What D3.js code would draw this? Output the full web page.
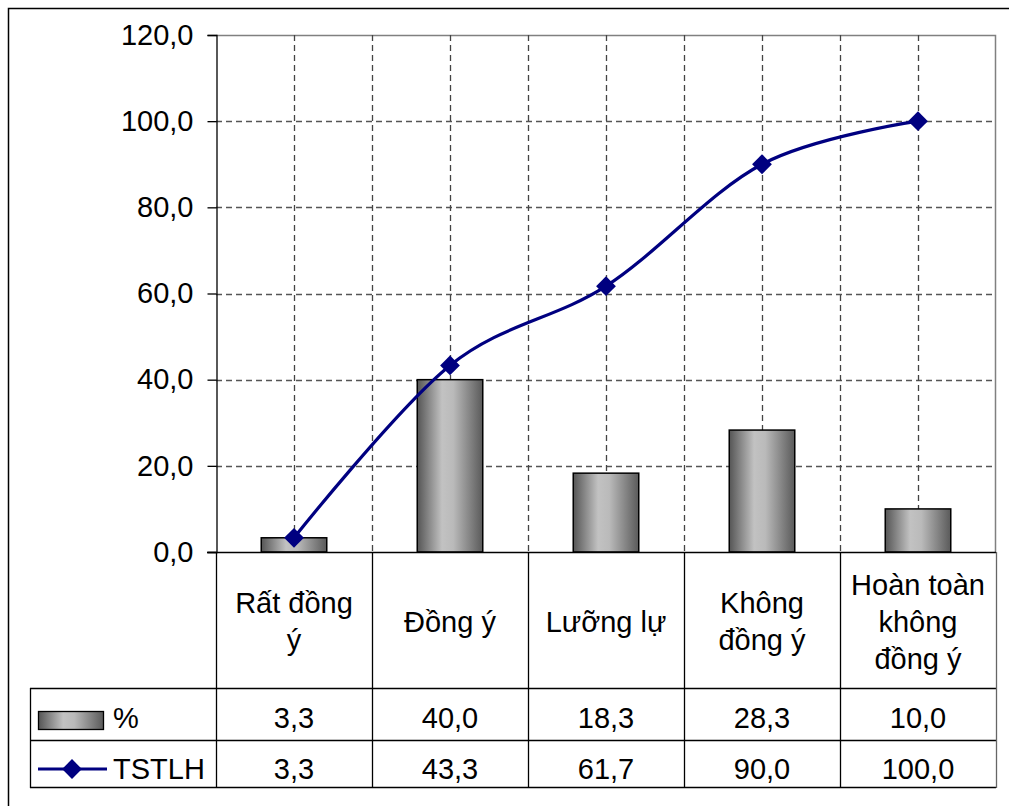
<!DOCTYPE html>
<html>
<head>
<meta charset="utf-8">
<script src="https://cdn.jsdelivr.net/npm/d3@7"></script>
<style>
  body { margin: 0; background: #fff; }
  text { font-family: "Liberation Sans", Arial, sans-serif; fill: #000; }
</style>
</head>
<body>
<svg id="chart" width="1009" height="806"></svg>
<script>
// Category labels (line breaks as they wrap in the table header)
const categories = ["Rất đồng\ný", "Đồng ý", "Lưỡng lự", "Không\nđồng ý", "Hoàn toàn\nkhông\nđồng ý"];
// Share of answers per category (%)
const percentValues = [3.3, 40.0, 18.3, 28.3, 10.0];
// Cumulative share (TSTLH)
const cumulativeValues = [3.3, 43.3, 61.7, 90.0, 100.0];
const seriesNames = ["%", "TSTLH"];
const yTicks = [0, 20, 40, 60, 80, 100, 120];

const svg = d3.select("#chart");
const W = 1009, H = 806;
const plot = { left: 216, right: 996, top: 35, bottom: 552 };
const table = { left: 30, headerBottom: 688, row1Bottom: 740, row2Bottom: 787 };
const fontSize = 29;
const navy = "#000080";

const locale = d3.formatLocale({ decimal: ",", thousands: ".", grouping: [3], currency: ["", ""] });
const fmt = locale.format(".1f");

const idx = d3.range(categories.length);
const xCol = d3.scaleBand().domain(idx).range([plot.left, plot.right]).padding(0);
const xBar = d3.scaleBand().domain(idx).range([plot.left, plot.right])
  .paddingInner(0.58).paddingOuter(0.29);
const y = d3.scaleLinear().domain([0, 120]).range([plot.bottom, plot.top]);
const cx = i => xCol(i) + xCol.bandwidth() / 2;

// Gradient for the column fill
const defs = svg.append("defs");
const grad = defs.append("linearGradient").attr("id", "barGrad")
  .attr("x1", "0%").attr("x2", "100%").attr("y1", "0%").attr("y2", "0%");
[[0, "#555555"], [0.38, "#c2c2c2"], [0.55, "#bababa"], [1, "#5a5a5a"]]
  .forEach(([o, c]) => grad.append("stop").attr("offset", o).attr("stop-color", c));

// Outer chart border
svg.append("rect").attr("x", 8.5).attr("y", 8.5).attr("width", W + 20).attr("height", H + 20)
  .attr("fill", "none").attr("stroke", "#000").attr("stroke-width", 1.5);

// Plot area frame (top / right)
svg.append("path")
  .attr("d", `M${plot.left},${plot.top + 0.5}H${plot.right - 0.5}V${plot.bottom}`)
  .attr("fill", "none").attr("stroke", "#808080").attr("stroke-width", 1.5);

// Horizontal gridlines
svg.append("g").selectAll("line").data(yTicks.filter(t => t > 0 && t < 120)).join("line")
  .attr("x1", plot.left).attr("x2", plot.right)
  .attr("y1", d => Math.round(y(d)) + 0.5).attr("y2", d => Math.round(y(d)) + 0.5)
  .attr("stroke", "#555").attr("stroke-width", 1.3).attr("stroke-dasharray", "6,4");

// Vertical gridlines at category centres and boundaries
const vGrid = [];
idx.forEach(i => { vGrid.push(cx(i)); if (i > 0) vGrid.push(xCol(i)); });
svg.append("g").selectAll("line").data(vGrid).join("line")
  .attr("x1", d => Math.round(d) + 0.5).attr("x2", d => Math.round(d) + 0.5)
  .attr("y1", plot.top).attr("y2", plot.bottom)
  .attr("stroke", "#444").attr("stroke-width", 1.3).attr("stroke-dasharray", "6,4");

// Columns
svg.append("g").selectAll("rect").data(percentValues).join("rect")
  .attr("x", (d, i) => xBar(i)).attr("width", xBar.bandwidth())
  .attr("y", d => y(d)).attr("height", d => y(0) - y(d))
  .attr("fill", "url(#barGrad)").attr("stroke", "#000").attr("stroke-width", 1.5);

// Y axis
const yAxis = svg.append("g").attr("transform", `translate(${plot.left + 0.5},0)`)
  .call(d3.axisLeft(y).tickValues(yTicks).tickSize(9).tickPadding(14).tickFormat(fmt));
yAxis.select(".domain").attr("stroke", "#000").attr("stroke-width", 1.3);
yAxis.selectAll(".tick line").attr("stroke", "#000").attr("stroke-width", 1.3);
yAxis.selectAll(".tick text").style("font-size", fontSize + "px")
  .style("font-family", '"Liberation Sans", Arial, sans-serif').attr("fill", "#000");

// Category axis line
svg.append("line").attr("x1", plot.left - 9).attr("x2", plot.right)
  .attr("y1", plot.bottom + 0.5).attr("y2", plot.bottom + 0.5)
  .attr("stroke", "#000").attr("stroke-width", 1.3);

// Cumulative line
const line = d3.line().x((d, i) => cx(i)).y(d => y(d)).curve(d3.curveCatmullRom.alpha(0));
svg.append("path").datum(cumulativeValues).attr("d", line)
  .attr("fill", "none").attr("stroke", navy).attr("stroke-width", 3.2);

const diamond = d3.symbol().type(d3.symbolDiamond2).size(250);
svg.append("g").selectAll("path").data(cumulativeValues).join("path")
  .attr("transform", (d, i) => `translate(${cx(i)},${y(d)}) rotate(0)`)
  .attr("d", diamond).attr("fill", navy);

// Data table grid
const tg = svg.append("g").attr("stroke", "#000").attr("stroke-width", 1.3).attr("fill", "none");
[table.headerBottom, table.row1Bottom, table.row2Bottom].forEach(yy => {
  tg.append("line").attr("x1", table.left).attr("x2", plot.right)
    .attr("y1", yy + 0.5).attr("y2", yy + 0.5);
});
tg.append("line").attr("x1", table.left + 0.5).attr("x2", table.left + 0.5)
  .attr("y1", table.headerBottom).attr("y2", table.row2Bottom + 1);
d3.range(categories.length + 1).forEach(i => {
  const xx = i < categories.length ? xCol(i) : plot.right;
  tg.append("line").attr("x1", Math.round(xx) + 0.5).attr("x2", Math.round(xx) + 0.5)
    .attr("y1", plot.bottom).attr("y2", table.row2Bottom + 1)
    .attr("stroke", i === categories.length ? "#666" : "#000");
});

// Header labels
const lineGap = 37, headerMid = 621;
categories.forEach((c, i) => {
  const lines = c.split("\n");
  const t = svg.append("text").attr("text-anchor", "middle").style("font-size", fontSize + "px");
  lines.forEach((ln, k) => {
    t.append("tspan").attr("x", cx(i))
      .attr("y", headerMid + (k - (lines.length - 1) / 2) * lineGap + 10.5)
      .text(ln);
  });
});

// Value rows
const rows = [
  { name: seriesNames[0], values: percentValues, base: 728 },
  { name: seriesNames[1], values: cumulativeValues, base: 779 }
];
rows.forEach(r => {
  svg.append("g").selectAll("text").data(r.values).join("text")
    .attr("x", (d, i) => cx(i)).attr("y", r.base).attr("text-anchor", "middle")
    .style("font-size", fontSize + "px").text(d => fmt(d));
  svg.append("text").attr("x", 113).attr("y", r.base)
    .style("font-size", fontSize + "px").text(r.name);
});

// Legend keys
svg.append("rect").attr("x", 38.5).attr("y", 711.5).attr("width", 65).attr("height", 18)
  .attr("fill", "url(#barGrad)").attr("stroke", "#000").attr("stroke-width", 1.3);
svg.append("line").attr("x1", 38).attr("x2", 107).attr("y1", 769).attr("y2", 769)
  .attr("stroke", navy).attr("stroke-width", 3.2);
svg.append("path").attr("transform", "translate(72,769)").attr("d", diamond).attr("fill", navy);
</script>
</body>
</html>
